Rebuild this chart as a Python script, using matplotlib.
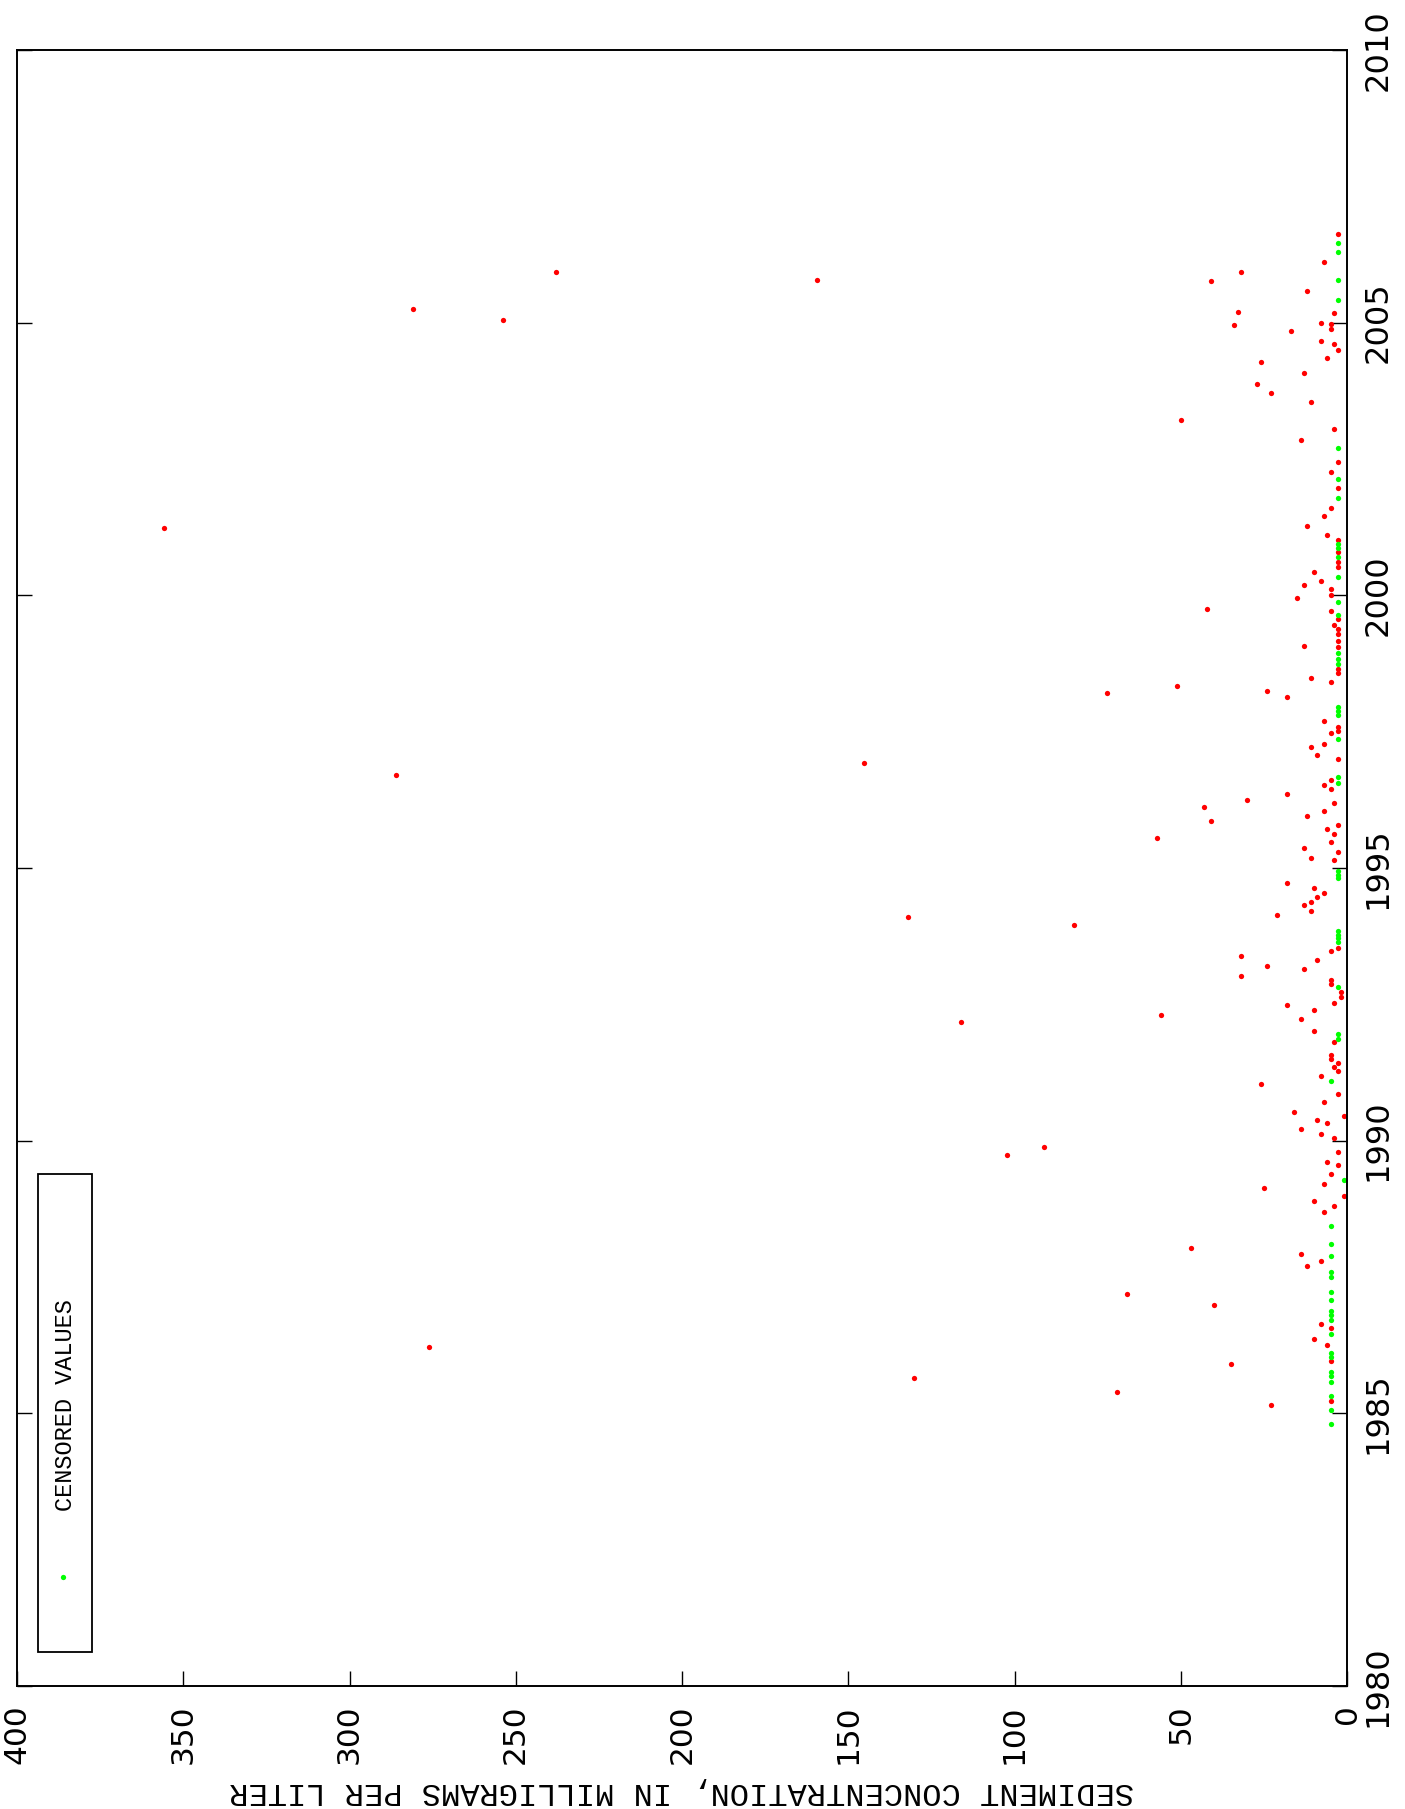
import matplotlib
matplotlib.use("Agg")
import matplotlib.pyplot as plt
from matplotlib.patches import Rectangle

# ---------------- data ----------------
# Uncensored samples: decimal year and sediment concentration (mg/L)
red_year = [
    2001.23, 2005.25, 2005.05, 2005.93, 2005.78, 1996.70, 1996.93, 1998.20, 1994.10,
    1993.95, 1992.17, 1989.74, 1989.89, 1987.18, 1986.21, 1985.64, 1985.40,
    2006.62, 2006.11, 2005.93, 2005.77, 2005.58, 2005.19, 2005.17, 2004.95, 2005.00,
    2004.97, 2004.88, 2004.84, 2004.67, 2004.60, 2004.49, 2004.36, 2004.28, 2004.08,
    2003.87, 2003.71, 2003.54, 2003.22, 2003.05, 2002.85, 2002.44, 2002.26, 2001.96,
    2001.61, 2001.46, 2001.27, 2001.10, 2001.01, 2000.79, 2000.61, 2000.52, 2000.42,
    2000.26, 2000.19, 2000.11, 2000.01, 1999.95, 1999.75, 1999.71, 1999.56, 1999.46,
    1999.38, 1999.29, 1999.17, 1999.05, 1999.08, 1998.65, 1998.58, 1998.49, 1998.41,
    1998.33, 1998.24, 1998.13, 1997.69, 1997.59, 1997.51, 1997.47, 1997.27, 1997.21,
    1997.08, 1997.00, 1996.61,
    1996.52, 1996.44, 1996.36, 1996.25, 1996.12, 1996.20, 1996.04, 1995.95, 1995.87,
    1995.79, 1995.71, 1995.62, 1995.55, 1995.47, 1995.37, 1995.29, 1995.19, 1995.15,
    1994.72, 1994.64, 1994.54, 1994.46, 1994.37, 1994.32, 1994.22, 1994.14, 1993.54,
    1993.47, 1993.38, 1993.31, 1993.20, 1993.15, 1993.02, 1992.94, 1992.88, 1992.72,
    1992.64, 1992.52, 1992.48, 1992.31, 1992.40, 1992.23, 1992.02, 1991.81, 1991.58,
    1991.49, 1991.42, 1991.36, 1991.27, 1991.18, 1991.03, 1990.85, 1990.71, 1990.53,
    1990.45, 1990.38, 1990.32, 1990.21, 1990.13, 1990.05, 1989.79, 1989.61, 1989.55,
    1989.38, 1989.13, 1989.21, 1988.98, 1988.90, 1988.80, 1988.70, 1988.04, 1987.93,
    1987.80, 1987.71, 1986.99, 1986.63, 1986.56, 1986.36, 1986.26, 1985.96, 1985.91,
    1985.23, 1985.15,
]
red_conc = [
    355.8, 280.9, 253.9, 237.9, 159.5, 286.0, 145.2, 72.3, 132.0,
    82.1, 116.0, 102.2, 91.1, 66.1, 276.0, 130.3, 69.3,
    2.8, 6.9, 31.9, 41.0, 11.9, 32.9, 3.9, 34.0, 7.9,
    4.9, 4.9, 16.9, 7.9, 3.9, 2.8, 5.9, 25.9, 12.9,
    27.0, 23.0, 10.9, 50.0, 3.9, 13.9, 2.8, 4.9, 2.8,
    4.9, 6.9, 11.9, 5.9, 2.8, 2.8, 2.8, 2.8, 9.9,
    7.9, 12.9, 4.9, 4.9, 14.9, 42.0, 4.9, 2.8, 3.9,
    2.8, 2.8, 2.8, 2.8, 12.9, 2.8, 2.8, 10.9, 4.9,
    51.0, 24.0, 18.0, 6.9, 2.8, 2.8, 4.9, 6.9, 10.9,
    8.9, 2.8, 4.9,
    6.9, 4.9, 18.0, 30.0, 43.0, 3.9, 6.9, 11.9, 41.0,
    2.8, 5.9, 3.9, 57.0, 4.9, 12.9, 2.8, 10.9, 3.9,
    18.0, 9.9, 6.9, 8.9, 10.9, 12.9, 10.9, 21.0, 2.8,
    4.9, 32.0, 8.9, 24.0, 12.9, 32.0, 4.9, 4.9, 1.9,
    1.9, 3.9, 18.0, 56.0, 9.9, 13.9, 9.9, 3.9, 4.9,
    4.9, 2.8, 3.9, 2.8, 7.9, 26.0, 2.8, 6.9, 15.9,
    0.9, 8.9, 5.9, 13.9, 7.9, 3.9, 2.8, 5.9, 2.8,
    4.9, 25.0, 6.9, 0.9, 9.9, 3.9, 6.9, 47.0, 13.9,
    7.9, 11.9, 40.0, 7.9, 4.9, 9.9, 5.9, 4.9, 35.0,
    4.9, 23.0,
]

# Censored samples (shown in green)
cens_year = [
    2006.47, 2006.30, 2005.79, 2005.42, 2002.71, 2002.13, 2001.78, 2000.94, 2000.87,
    2000.70, 2000.34, 1999.88, 1999.64, 1998.94, 1998.84, 1998.75, 1997.95, 1997.88,
    1997.80, 1997.37, 1996.66, 1996.55,
    1994.94, 1994.88, 1994.81, 1993.84, 1993.78, 1993.72, 1993.65, 1992.81, 1991.95,
    1991.87, 1991.09, 1989.28, 1988.44, 1988.11, 1987.88, 1987.60, 1987.50, 1987.23,
    1987.08, 1986.87, 1986.80, 1986.72, 1986.45, 1986.10, 1986.04, 1985.76, 1985.69,
    1985.57, 1985.31, 1985.07, 1984.80,
]
cens_conc = [
    2.8, 2.8, 2.8, 2.8, 2.8, 2.8, 2.8, 2.8, 2.8,
    2.8, 2.8, 2.8, 2.8, 2.8, 2.8, 2.8, 2.8, 2.8,
    2.8, 2.8, 2.8, 2.8,
    2.8, 2.8, 2.8, 2.8, 2.8, 2.8, 2.8, 2.8, 2.8,
    2.8, 4.9, 0.9, 4.9, 4.9, 4.9, 4.9, 4.9, 4.9,
    4.9, 4.9, 4.9, 4.9, 4.9, 4.9, 4.9, 4.9, 4.9,
    4.9, 4.9, 4.9, 4.9,
]

conc_ticks = [0, 50, 100, 150, 200, 250, 300, 350, 400]
year_ticks = [1980, 1985, 1990, 1995, 2000, 2005, 2010]
axis_label = "SEDIMENT CONCENTRATION, IN MILLIGRAMS PER LITER"
legend_label = "CENSORED VALUES"

# ---------------- figure ----------------
W, H = 1405, 1809
fig = plt.figure(figsize=(W / 100, H / 100), dpi=100)
ax = fig.add_axes([17 / W, (H - 1686) / H, 1330 / W, 1636 / H])

ax.plot(red_conc, red_year, "o", color="#ff0000", ms=3.8, mew=0, ls="none")
ax.plot(cens_conc, cens_year, "o", color="#00ff00", ms=3.8, mew=0, ls="none")

ax.set_xlim(400, 0)
ax.set_ylim(1980, 2010)

for s in ax.spines.values():
    s.set_linewidth(1.4)
    s.set_color("black")

ax.set_xticks(conc_ticks)
ax.set_xticklabels([str(v) for v in conc_ticks])
ax.set_yticks(year_ticks)
ax.set_yticklabels([str(v) for v in year_ticks])

ax.tick_params(axis="x", which="both", direction="in", length=11, width=1.0,
               bottom=True, top=False, labelbottom=True,
               labelrotation=90, pad=13, labelsize=22.5)
ax.tick_params(axis="y", which="both", direction="in", length=11, width=1.0,
               left=True, right=True, labelleft=False, labelright=True,
               labelrotation=90, pad=11, labelsize=23)
for lbl in ax.get_yticklabels():
    lbl.set_va("center")
for lbl in ax.get_xticklabels():
    lbl.set_va("top")
    lbl.set_ha("center")

# axis label (upside-down, rotated page)
fig.text(682 / W, 1 - 1791 / H, axis_label, rotation=180, ha="center", va="center",
         family="Liberation Mono", fontsize=23)

# legend box
ax.add_patch(Rectangle((0.0156, 0.0208), 0.0408, 0.2922, transform=ax.transAxes,
                       fill=False, lw=1.3, edgecolor="black"))
ax.text(0.0368, 0.1718, legend_label, rotation=90, ha="center", va="center",
        transform=ax.transAxes, family="Liberation Mono", fontsize=17)
ax.plot([0.0346], [0.0666], "o", color="#00ff00", ms=3.8, mew=0,
        transform=ax.transAxes, clip_on=False)

fig.savefig("out.png", dpi=100, facecolor="white")
